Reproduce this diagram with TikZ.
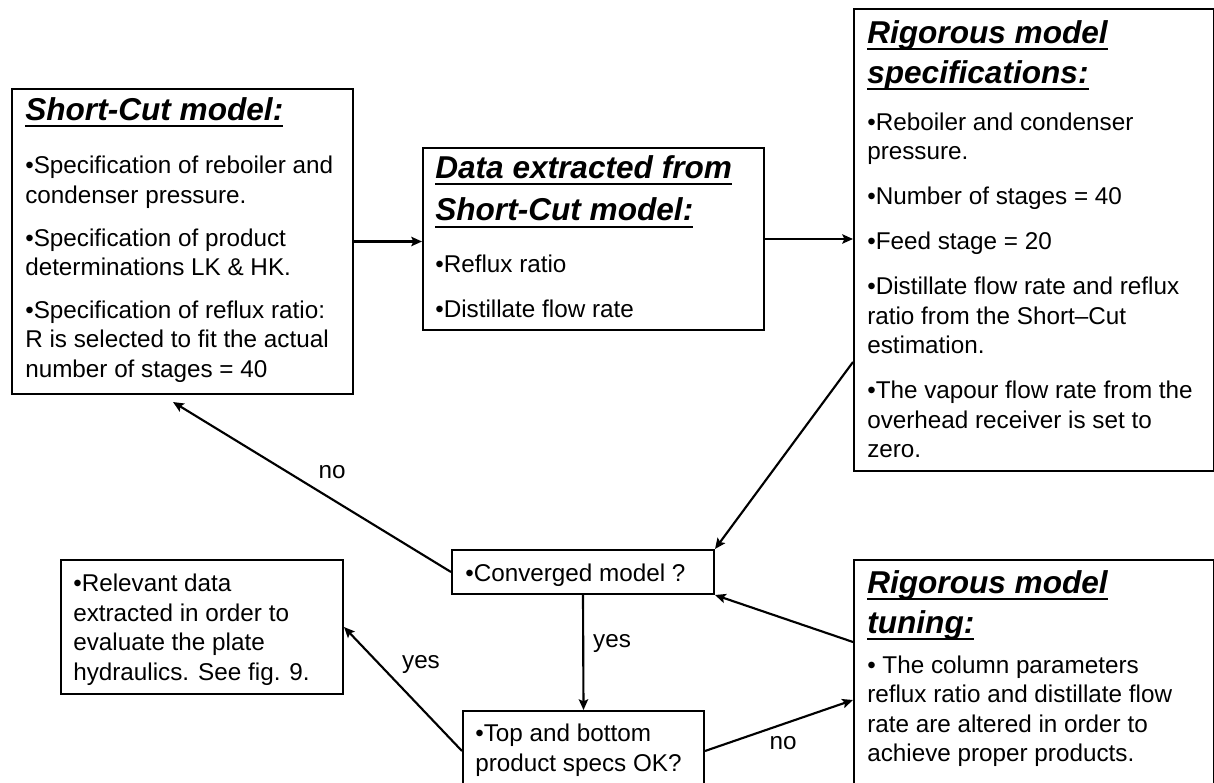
\documentclass[tikz,border=0pt]{standalone}
\usepackage{fontspec}
\setmainfont{Liberation Sans}
\usetikzlibrary{arrows.meta,calc}
\newsavebox\ttlbox
\newcommand\ttl[1]{{\fontsize{23.7}{28}\selectfont\bfseries\itshape\sbox\ttlbox{#1}\rlap{\vrule height -3.6pt depth 5.3pt width \wd\ttlbox}\usebox\ttlbox}}
\tikzset{
  box/.style={draw, line width=1.5pt, inner sep=0pt, anchor=north west},
  txt/.style={anchor=north west, inner sep=0pt, align=left, font=\fontsize{18.2}{22.1}\selectfont},
  lbl/.style={font=\fontsize{18.2}{22.1}\selectfont, inner sep=0pt},
  arr/.style={line width=1.6pt, -{Stealth[length=8pt,width=7pt,inset=1.5pt]}},
}
\begin{document}
\begin{tikzpicture}[x=0.75pt,y=-0.75pt]
\useasboundingbox (0,0) rectangle (1214,782);
\clip (0,0) rectangle (1214,782);
% boxes
\node[box, minimum width=255.75pt, minimum height=228.75pt] (b1) at (11,88) {};
\node[box, minimum width=255.75pt, minimum height=136.5pt] (b2) at (422,147) {};
\node[box, minimum width=270pt, minimum height=346.5pt] (b3) at (853,8) {};
\node[box, minimum width=196.5pt, minimum height=33pt] (conv) at (451,549) {};
\node[box, minimum width=180.75pt, minimum height=60pt] (top) at (462,710) {};
\node[box, minimum width=211.5pt, minimum height=100.5pt] (rel) at (60,559) {};
\node[box, minimum width=270pt, minimum height=180.75pt] (tun) at (853,559) {};
% texts
\node[txt] (b1t) at (25,97) {\ttl{Short-Cut model:}\\[17.95pt]
•Specification of reboiler and\\
condenser pressure.\\[10.15pt]
•Specification of product\\
determinations LK \& HK.\\[10.15pt]
•Specification of reflux ratio:\\
R is selected to fit the actual\\
number of stages = 40};
\node[txt] (b2t) at (435,155) {\ttl{Data extracted from}\\[8.65pt]
\ttl{Short-Cut model:}\\[16.45pt]
•Reflux ratio\\[11.65pt]
•Distillate flow rate};
\node[txt] (b3t) at (867,20) {\ttl{Rigorous model}\\[6.4pt]
\ttl{specifications:}\\[13.45pt]
•Reboiler and condenser\\
pressure.\\[11.65pt]
•Number of stages = 40\\[11.65pt]
•Feed stage = 20\\[11.65pt]
•Distillate flow rate and reflux\\
ratio from the Short–Cut\\
estimation.\\[11.65pt]
•The vapour flow rate from the\\
overhead receiver is set to\\
zero.};
\node[txt] (convt) at (465,564) {•Converged model ?};
\node[txt] (topt) at (475,724) {•Top and bottom\\product specs OK?};
\node[txt] (relt) at (73,574) {•Relevant data\\extracted in order to\\evaluate the plate\\hydraulics. See fig. 9.};
\node[txt] (tunt) at (867,570) {\ttl{Rigorous model}\\[6.4pt]
\ttl{tuning:}\\[8.2pt]
• The column parameters\\
reflux ratio and distillate flow\\
rate are altered in order to\\
achieve proper products.};
% connectors
\coordinate (noTip) at (173,402);
\draw[arr] (b1.east) -- (b1.east -| b2.west);
\draw[arr] (b2.east) -- (b2.east -| b3.west);
\draw[arr] ($(b3.north west)+(0,354)$) -- (conv.north east);
\draw[arr] (conv.west) -- (noTip);
\draw[arr] (conv.south) -- (top.north);
\draw[arr] (top.west) -- (rel.east);
\draw[arr] (top.east) -- ($(tun.north west)+(0,141)$);
\draw[arr] ($(tun.north west)+(0,83)$) -- (conv.south east);
% labels
\node[lbl] (no1) at (332,472) {no};
\node[lbl] (yes1) at (612,643) {yes};
\node[lbl] (yes2) at (421,664) {yes};
\node[lbl] (no2) at (783,743) {no};
\end{tikzpicture}
\end{document}
